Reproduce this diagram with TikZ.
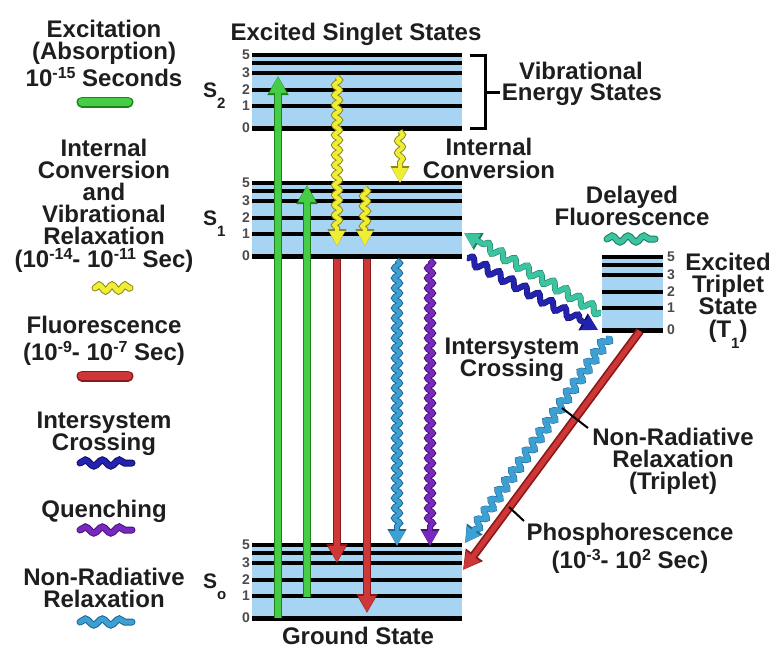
\documentclass[tikz,border=0pt]{standalone}
\usepackage{fontspec}
\setmainfont{Liberation Sans}
\usetikzlibrary{arrows.meta,decorations.pathmorphing}
\definecolor{txt}{RGB}{30,30,30}
\definecolor{numc}{RGB}{75,75,75}
\definecolor{bandc}{RGB}{166,212,242}
\definecolor{grn}{RGB}{70,205,70}
\definecolor{grnd}{RGB}{30,130,30}
\definecolor{yel}{RGB}{240,238,50}
\definecolor{yeld}{RGB}{140,135,30}
\definecolor{redc}{RGB}{205,55,55}
\definecolor{redd}{RGB}{140,25,25}
\definecolor{cyn}{RGB}{60,160,210}
\definecolor{cynd}{RGB}{30,100,150}
\definecolor{prp}{RGB}{120,40,190}
\definecolor{prpd}{RGB}{70,20,120}
\definecolor{blu}{RGB}{35,35,175}
\definecolor{blud}{RGB}{15,15,100}
\definecolor{tea}{RGB}{60,195,160}
\definecolor{tead}{RGB}{25,120,95}
\newcommand\mysup[1]{\raisebox{8pt}{\fontsize{16}{16}\selectfont #1}}
\newcommand\mysub[1]{\raisebox{-11pt}{\fontsize{15}{15}\selectfont #1}}
\begin{document}
\begin{tikzpicture}[x=1pt,y=-1pt,
  every node/.style={inner sep=0pt,text=txt},
  lbl/.style={font=\fontsize{24}{22}\selectfont\bfseries,anchor=base,text height=16pt,text depth=2pt},
  slbl/.style={font=\fontsize{21}{21}\selectfont\bfseries,anchor=base west},
  num/.style={font=\fontsize{14}{14}\selectfont\bfseries,text=numc},
  lev/.style={line width=3.5pt,draw=black},
  levz/.style={line width=5pt,draw=black},
  sarr/.style 2 args={draw=#1,line width=6pt,arrows={-Triangle[width=16pt,length=17pt]},
     preaction={draw=#2,line width=8.5pt,arrows={-Triangle[width=20pt,length=19pt]}}},
  warr/.style 2 args={draw=#1,line width=4pt,decorate,
     decoration={snake,amplitude=2.8pt,segment length=10pt,post length=15pt},
     arrows={-Triangle[width=15pt,length=15pt]},
     preaction={draw=#2,line width=6pt,arrows={-Triangle[width=18pt,length=17pt]}}},
  bar/.style 2 args={draw=#1,line width=8pt,line cap=round,
     preaction={draw=#2,line width=11pt,line cap=round}},
  lwave/.style 2 args={draw=#1,line width=5pt,line cap=round,decorate,
     decoration={snake,amplitude=3pt,segment length=17pt},
     preaction={draw=#2,line width=7pt,line cap=round}},
  tickl/.style={draw=black,line width=2pt}
]
\useasboundingbox (0,0) rectangle (771,651);
\fill[white] (0,0) rectangle (771,651);

% ---- energy level blocks
\foreach \xa/\xb/\yz in {252/462/128, 252/462/256, 252/462/618, 602/663/330}{
  \fill[bandc] (\xa,\yz) rectangle (\xb,\yz-73);
  \foreach \d in {22,38,55,65,73} \draw[lev] (\xa,\yz-\d) -- (\xb,\yz-\d);
  \draw[levz] (\xa,\yz) -- (\xb,\yz);
}
\foreach \yz in {128,256,618}{
  \foreach \d/\t in {0/0,22/1,38/2,55/3,73/5}
    \node[num,anchor=east] (n\yz-\t) at (250,\yz-\d) {\t};
}
\foreach \d/\t in {0/0,22/1,38/2,55/3,73/5}
  \node[num,anchor=west] (nt-\t) at (667,330-\d) {\t};

% ---- state labels
\node[slbl] (s2) at (203,97) {S\mysub{2}};
\node[slbl] (s1) at (203,225) {S\mysub{1}};
\node[slbl] (s0) at (203,588) {S\mysub{o}};

% ---- bracket
\draw[line width=3pt] (470,55) -- (485,55) -- (485,128) -- (470,128);
\draw[line width=3pt] (485,92) -- (500,92);

% ---- coordinates
\coordinate (g1a) at (278,618); \coordinate (g1b) at (278,76);
\coordinate (g2a) at (307,597); \coordinate (g2b) at (307,185);
\coordinate (y1a) at (337,77);  \coordinate (y1b) at (337,246);
\coordinate (y2a) at (365,188); \coordinate (y2b) at (365,246);
\coordinate (y3a) at (400,131); \coordinate (y3b) at (400,183);
\coordinate (r1a) at (337,259); \coordinate (r1b) at (337,563);
\coordinate (r2a) at (367,259); \coordinate (r2b) at (367,613);
\coordinate (c1a) at (397,260); \coordinate (c1b) at (397,546);
\coordinate (p1a) at (430,260); \coordinate (p1b) at (430,546);
\coordinate (tda) at (601,313); \coordinate (tdb) at (464,233);
\coordinate (isa) at (467,258); \coordinate (isb) at (598,330);
\coordinate (c2a) at (609,336); \coordinate (c2b) at (465,543);
\coordinate (pha) at (640,331); \coordinate (phb) at (463,570);

% ---- transitions
\draw[sarr={grn}{grnd}] (g1a) -- (g1b);
\draw[sarr={grn}{grnd}] (g2a) -- (g2b);
\draw[warr={yel}{yeld}] (y1a) -- (y1b);
\draw[warr={yel}{yeld}] (y2a) -- (y2b);
\draw[warr={yel}{yeld},decoration={segment length=12pt}] (y3a) -- (y3b);
\draw[sarr={redc}{redd}] (r1a) -- (r1b);
\draw[sarr={redc}{redd}] (r2a) -- (r2b);
\draw[warr={cyn}{cynd}] (c1a) -- (c1b);
\draw[warr={prp}{prpd}] (p1a) -- (p1b);
\draw[warr={tea}{tead},line width=5pt,decoration={segment length=15pt,amplitude=4pt}] (tda) -- (tdb);
\draw[warr={blu}{blud},line width=5pt,decoration={segment length=15pt,amplitude=4pt}] (isa) -- (isb);
\draw[warr={cyn}{cynd},line width=5pt,decoration={segment length=12pt,amplitude=4pt}] (c2a) -- (c2b);
\draw[sarr={redc}{redd},line width=5pt] (pha) -- (phb);

% ---- pointer ticks
\coordinate (k1a) at (562,408); \coordinate (k1b) at (588,428);
\coordinate (k2a) at (509,507); \coordinate (k2b) at (524,521);
\draw[tickl] (k1a) -- (k1b);
\draw[tickl] (k2a) -- (k2b);

% ---- legend texts
\node[lbl] (e1) at (104,37) {Excitation};
\node[lbl] (e2) at (104,59) {(Absorption)};
\node[lbl] (e3) at (104,86) {10\mysup{-15} Seconds};
\node[lbl] (i1) at (104,156) {Internal};
\node[lbl] (i2) at (104,178) {Conversion};
\node[lbl] (i3) at (104,200) {and};
\node[lbl] (i4) at (104,222) {Vibrational};
\node[lbl] (i5) at (104,244) {Relaxation};
\node[lbl] (i6) at (104,267) {(10\mysup{-14}- 10\mysup{-11} Sec)};
\node[lbl] (f1) at (104,333) {Fluorescence};
\node[lbl] (f2) at (104,360) {(10\mysup{-9}- 10\mysup{-7} Sec)};
\node[lbl] (c1) at (104,428) {Intersystem};
\node[lbl] (c2) at (104,450) {Crossing};
\node[lbl] (q1) at (104,517) {Quenching};
\node[lbl] (nr1l) at (104,585) {Non-Radiative};
\node[lbl] (nr2l) at (104,607) {Relaxation};

% ---- legend markers
\coordinate (lg1) at (82,102);  \coordinate (lg2) at (128,102);
\coordinate (ly1) at (95,288);  \coordinate (ly2) at (130,288);
\coordinate (lr1) at (82,376);  \coordinate (lr2) at (128,376);
\coordinate (lb1) at (80,463);  \coordinate (lb2) at (132,463);
\coordinate (lp1) at (80,530);  \coordinate (lp2) at (132,530);
\coordinate (lc1) at (80,622);  \coordinate (lc2) at (132,622);
\coordinate (lt1) at (607,239); \coordinate (lt2) at (655,239);
\draw[bar={grn}{grnd}] (lg1) -- (lg2);
\draw[lwave={yel}{yeld},decoration={segment length=13pt}] (ly1) -- (ly2);
\draw[bar={redc}{redd}] (lr1) -- (lr2);
\draw[lwave={blu}{blud}] (lb1) -- (lb2);
\draw[lwave={prp}{prpd}] (lp1) -- (lp2);
\draw[lwave={cyn}{cynd}] (lc1) -- (lc2);
\draw[lwave={tea}{tead},decoration={segment length=16pt}] (lt1) -- (lt2);

% ---- diagram texts
\node[lbl] (est) at (356,40) {Excited Singlet States};
\node[lbl] (v1) at (581,79) {Vibrational};
\node[lbl] (v2) at (582,100) {Energy States};
\node[lbl] (ic1) at (489,155) {Internal};
\node[lbl] (ic2) at (489,178) {Conversion};
\node[lbl] (d1) at (632,203) {Delayed};
\node[lbl] (d2) at (632,225) {Fluorescence};
\node[lbl] (t1) at (728,270) {Excited};
\node[lbl] (t2) at (728,292) {Triplet};
\node[lbl] (t3) at (728,314) {State};
\node[lbl] (t4) at (728,337) {(T\mysub{1})};
\node[lbl] (isc1) at (512,354) {Intersystem};
\node[lbl] (isc2) at (512,376) {Crossing};
\node[lbl] (nr1) at (673,445) {Non-Radiative};
\node[lbl] (nr2) at (673,467) {Relaxation};
\node[lbl] (nr3) at (673,489) {(Triplet)};
\node[lbl] (ph1) at (630,540) {Phosphorescence};
\node[lbl] (ph2) at (630,568) {(10\mysup{-3}- 10\mysup{2} Sec)};
\node[lbl] (gs) at (358,644) {Ground State};
\end{tikzpicture}
\end{document}
